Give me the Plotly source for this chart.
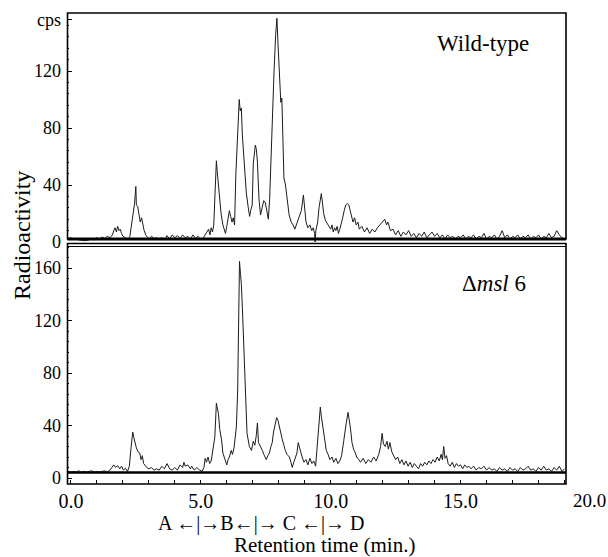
import plotly.graph_objects as go

# ---------------- data ----------------
wt_time = [-0.1, 0.0, 0.1, 0.2, 0.3, 0.4, 0.5, 0.6, 0.7, 0.8, 0.9, 1.0, 1.1, 1.2, 1.3, 1.4, 1.5, 1.6, 1.65, 1.7,
           1.75, 1.8, 1.85, 1.9, 1.95, 2.0, 2.1, 2.2, 2.27, 2.33, 2.4, 2.45, 2.5, 2.52, 2.57, 2.62, 2.67, 2.72, 2.77, 2.82,
           2.88, 2.95, 3.0, 3.1, 3.2, 3.3, 3.4, 3.5, 3.6, 3.7, 3.8, 3.9, 4.0, 4.1, 4.2, 4.3, 4.4, 4.5, 4.6, 4.7,
           4.8, 4.9, 5.0, 5.1, 5.2, 5.3, 5.35, 5.4, 5.45, 5.5, 5.55, 5.6, 5.63, 5.68, 5.72, 5.78, 5.85, 5.9, 5.95, 6.0,
           6.05, 6.1, 6.15, 6.2, 6.25, 6.3, 6.35, 6.42, 6.48, 6.52, 6.56, 6.6, 6.65, 6.7, 6.75, 6.82, 6.88, 6.92, 6.98, 7.02,
           7.07, 7.1, 7.14, 7.18, 7.24, 7.3, 7.36, 7.42, 7.48, 7.55, 7.6, 7.65, 7.7, 7.76, 7.82, 7.88, 7.93, 7.97, 8.02, 8.08,
           8.12, 8.16, 8.2, 8.26, 8.32, 8.4, 8.48, 8.55, 8.62, 8.7, 8.8, 8.87, 8.95, 9.0, 9.05, 9.12, 9.2, 9.27, 9.33, 9.38,
           9.4, 9.43, 9.5, 9.55, 9.6, 9.64, 9.68, 9.73, 9.8, 9.87, 9.94, 10.0, 10.05, 10.1, 10.15, 10.2, 10.25, 10.3, 10.35, 10.4,
           10.45, 10.52, 10.58, 10.64, 10.7, 10.75, 10.8, 10.86, 10.92, 10.98, 11.05, 11.1, 11.2, 11.3, 11.4, 11.5, 11.6, 11.7, 11.8, 11.9,
           12.0, 12.08, 12.15, 12.2, 12.3, 12.4, 12.5, 12.6, 12.7, 12.8, 12.9, 13.0, 13.1, 13.2, 13.3, 13.4, 13.5, 13.6, 13.7, 13.8,
           13.9, 14.0, 14.1, 14.2, 14.3, 14.4, 14.5, 14.6, 14.7, 14.8, 14.9, 15.0, 15.1, 15.2, 15.3, 15.4, 15.5, 15.6, 15.7, 15.8,
           15.9, 16.0, 16.1, 16.2, 16.3, 16.4, 16.5, 16.6, 16.7, 16.8, 16.9, 17.0, 17.1, 17.2, 17.3, 17.4, 17.5, 17.6, 17.7, 17.8,
           17.9, 18.0, 18.1, 18.2, 18.3, 18.4, 18.5, 18.6, 18.7, 18.8, 18.9, 19.0]
wt_cps = [2.5, 3, 2, 2.5, 1.5, 1, 1, 1, 1.5, 2, 1.5, 3, 2, 3.5, 2.5, 4, 3, 5, 8, 10,
          7, 11, 8, 9, 6, 4, 3, 2, 4, 12, 22, 27, 39, 26, 25, 20, 14, 17, 12, 8,
          5, 3, 2, 4, 2.5, 3, 2, 3, 1.5, 4.5, 2, 5, 3, 4.5, 2.5, 5, 3, 4, 2, 5,
          2.5, 4, 1.5, 3, 6, 9, 5, 10, 7, 12, 35, 57, 50, 38, 30, 20, 12, 8, 6, 11,
          16, 22, 18, 14, 17, 12, 48, 82, 100, 92, 94, 75, 60, 46, 35, 25, 18, 22, 26, 55,
          63, 68, 65, 56, 30, 19, 24, 29, 28, 22, 16, 30, 60, 95, 120, 145, 157, 140, 120, 98,
          101, 70, 45, 40, 32, 19, 14, 12, 9, 13, 17, 22, 33, 20, 14, 10, 12, 8, 10, 6,
          0, 8, 14, 24, 31, 34, 28, 20, 15, 13, 11, 9, 12, 7, 10, 8, 11, 6, 9, 12,
          16, 22, 26, 27, 26, 22, 18, 14, 17, 12, 14, 9, 11, 7, 10, 6, 9, 7, 10, 12,
          14, 16, 12, 14, 8, 9, 5, 8, 4, 7, 5, 8, 4, 6, 3, 6, 4, 7, 3, 5,
          7, 4, 6, 3, 5, 2, 5, 3, 4, 2, 4, 3, 5, 2, 4, 3, 5, 2, 4, 3,
          6, 2, 4, 3, 5, 2, 4, 8, 3, 5, 2, 4, 3, 5, 2, 4, 3, 5, 2, 4,
          3, 5, 2, 4, 3, 6, 3, 4, 8, 5, 3, 2]

msl_time = [-0.1, 0.0, 0.1, 0.2, 0.3, 0.4, 0.5, 0.6, 0.7, 0.8, 0.9, 1.0, 1.1, 1.2, 1.3, 1.4, 1.5, 1.58, 1.65, 1.72,
            1.8, 1.88, 1.95, 2.02, 2.1, 2.18, 2.25, 2.3, 2.34, 2.38, 2.42, 2.46, 2.52, 2.58, 2.65, 2.7, 2.75, 2.8, 2.86, 2.92,
            3.0, 3.1, 3.2, 3.3, 3.4, 3.5, 3.6, 3.7, 3.8, 3.9, 4.0, 4.1, 4.2, 4.3, 4.35, 4.4, 4.5, 4.6, 4.65, 4.75,
            4.85, 4.95, 5.05, 5.12, 5.17, 5.22, 5.28, 5.34, 5.4, 5.45, 5.5, 5.54, 5.6, 5.64, 5.68, 5.73, 5.8, 5.85, 5.92, 6.0,
            6.05, 6.1, 6.17, 6.22, 6.28, 6.33, 6.37, 6.42, 6.46, 6.49, 6.53, 6.56, 6.6, 6.64, 6.68, 6.73, 6.78, 6.87, 6.95, 7.02,
            7.08, 7.14, 7.18, 7.22, 7.3, 7.37, 7.45, 7.52, 7.58, 7.64, 7.7, 7.75, 7.8, 7.86, 7.92, 7.97, 8.02, 8.08, 8.14, 8.2,
            8.25, 8.32, 8.41, 8.47, 8.52, 8.58, 8.64, 8.7, 8.75, 8.79, 8.84, 8.9, 8.97, 9.05, 9.12, 9.2, 9.28, 9.35, 9.42, 9.47,
            9.52, 9.57, 9.6, 9.64, 9.68, 9.75, 9.83, 9.9, 9.97, 10.05, 10.12, 10.2, 10.28, 10.35, 10.42, 10.5, 10.55, 10.6, 10.67, 10.72,
            10.76, 10.82, 10.88, 10.95, 11.0, 11.08, 11.15, 11.25, 11.35, 11.45, 11.55, 11.65, 11.75, 11.85, 11.92, 11.98, 12.03, 12.1, 12.17, 12.22,
            12.28, 12.35, 12.42, 12.5, 12.58, 12.66, 12.74, 12.82, 12.9, 12.98, 13.06, 13.14, 13.22, 13.3, 13.38, 13.46, 13.54, 13.62, 13.7, 13.78,
            13.86, 13.94, 14.02, 14.1, 14.18, 14.25, 14.3, 14.35, 14.4, 14.46, 14.52, 14.6, 14.68, 14.76, 14.84, 14.92, 15.0, 15.08, 15.16, 15.24,
            15.32, 15.4, 15.5, 15.6, 15.7, 15.8, 15.9, 16.0, 16.1, 16.2, 16.3, 16.4, 16.5, 16.6, 16.7, 16.8, 16.9, 17.0, 17.1, 17.2,
            17.3, 17.4, 17.5, 17.6, 17.7, 17.8, 17.9, 18.0, 18.1, 18.2, 18.3, 18.4, 18.5, 18.6, 18.7, 18.8, 18.9, 19.0]
msl_cps = [5, 4.5, 5, 4.5, 5.5, 4.5, 5, 4.5, 5, 5.5, 4.5, 5, 4.5, 5, 5.5, 4.5, 6, 8, 10, 8,
           9.5, 7, 9, 6, 7.5, 5, 9, 20, 30, 35, 31, 27, 23, 20, 19, 14, 17, 11, 9, 8,
           7, 8, 6, 7, 6, 9, 7, 11, 7, 6, 8, 6, 10, 8, 12, 9, 10, 7, 9, 6,
           8, 6, 5, 8, 15, 12, 16, 11, 13, 19, 24, 31, 57, 52, 49, 37, 29, 19, 14, 10,
           14, 16, 21, 18, 23, 30, 39, 67, 118, 165, 155, 148, 130, 105, 80, 57, 34, 24, 21, 28,
           25, 33, 42, 27, 24, 21, 17, 14, 17, 19, 24, 27, 35, 42, 46, 44, 39, 33, 29, 25,
           21, 18, 16, 12, 8, 12, 16, 19, 27, 24, 19, 16, 12, 14, 10, 15, 11, 13, 9, 20,
           33, 48, 54, 47, 42, 30, 21, 18, 14, 16, 12, 15, 11, 13, 17, 28, 36, 42, 50, 44,
           38, 27, 22, 19, 16, 14, 12, 15, 11, 14, 12, 16, 13, 18, 24, 34, 26, 24, 28, 22,
           27, 20, 17, 14, 16, 11, 14, 10, 13, 9, 12, 8, 11, 9, 7, 11, 9, 12, 10, 13,
           11, 14, 12, 16, 13, 18, 14, 24, 15, 17, 11, 9, 12, 8, 11, 9, 10, 7, 10, 8,
           9, 7, 9, 6, 8, 7, 9, 6, 8, 6, 7, 5, 8, 6, 7, 5, 8, 6, 7, 5,
           8, 6, 7, 9, 6, 7, 5, 8, 6, 9, 6, 7, 5, 8, 6, 9, 5, 7]

y_ticks = [0, 40, 80, 120]
x_ticks = [0, 5, 10, 15]

# ---------------- layout helpers (pixel geometry in window coords) ----------------
W, H = 608, 557
ML, MR = 67, 17
PW = W - ML - MR


def px(xp):
    return (xp - ML) / PW


def py(yp):
    return 1 - yp / H


FONT = "Liberation Serif"
LINE = "#1c1c1c"

fig = go.Figure()
fig.add_trace(go.Scatter(x=wt_time, y=wt_cps, mode="lines", xaxis="x", yaxis="y",
                         line=dict(color=LINE, width=1), showlegend=False, hoverinfo="skip"))
fig.add_trace(go.Scatter(x=msl_time, y=msl_cps, mode="lines", xaxis="x2", yaxis="y2",
                         line=dict(color=LINE, width=1), showlegend=False, hoverinfo="skip"))

xr = [-0.15, 20.02]
top_range = [0, (242 - 13) / 1.425]
bot_range = [(478 - 484) / 1.3125, (478 - 245) / 1.3125]

ytick_common = dict(ticks="inside", ticklen=5, tickcolor="black", tickwidth=1,
                    showgrid=False, zeroline=False, showline=False,
                    tickfont=dict(family=FONT, size=18, color="black"),
                    ticklabelstandoff=5,
                    minor=dict(ticks="inside", ticklen=2, dtick=8, tickcolor="black"))

fig.update_layout(
    width=W, height=H, template="none",
    paper_bgcolor="white", plot_bgcolor="white",
    margin=dict(l=ML, r=MR, t=0, b=0),
    xaxis=dict(domain=[0, 1], range=xr, anchor="y", showticklabels=False, ticks="",
               showgrid=False, zeroline=False, showline=False),
    xaxis2=dict(domain=[0, 1], range=xr, anchor="y2", matches="x",
                tickvals=list(range(0, 20)),
                ticktext=[("%.1f" % v) if v in x_ticks else "" for v in range(0, 20)],
                ticks="inside", ticklen=4, tickcolor="black",
                tickfont=dict(family=FONT, size=20, color="black"),
                ticklabelstandoff=3,
                showgrid=False, zeroline=False, showline=False),
    yaxis=dict(domain=[py(242), py(13)], range=top_range, anchor="x",
               tickvals=y_ticks + [156], ticktext=[str(v) for v in y_ticks] + ["cps"],
               **ytick_common),
    yaxis2=dict(domain=[py(484), py(245)], range=bot_range, anchor="x2",
                tickvals=y_ticks + [160], ticktext=[str(v) for v in y_ticks + [160]],
                **ytick_common),
)

shapes = [
    # top panel frame
    dict(type="rect", xref="paper", yref="paper", x0=px(67.5), x1=px(566), y0=py(239), y1=py(13),
         line=dict(color="black", width=1.6)),
    dict(type="line", xref="paper", yref="paper", x0=px(67.5), x1=px(566), y0=py(239), y1=py(239),
         line=dict(color="black", width=3)),
    # bottom panel frame
    dict(type="rect", xref="paper", yref="paper", x0=px(67.5), x1=px(566), y0=py(484), y1=py(243.5),
         line=dict(color="black", width=1.6)),
    dict(type="line", xref="paper", yref="paper", x0=px(67.5), x1=px(566), y0=py(246.5), y1=py(246.5),
         line=dict(color="black", width=1)),
    dict(type="line", xref="paper", yref="paper", x0=px(67.5), x1=px(566), y0=py(472.5), y1=py(472.5),
         line=dict(color="black", width=2.5)),
]
fig.update_layout(shapes=shapes)

ann = [
    dict(text="Wild-type", x=px(483), y=py(43), size=23),
    dict(text="Δ<i>msl</i> 6", x=px(494), y=py(283), size=23),
    dict(text="A ←|→B←|→ C ←|→ D", x=px(261), y=py(523), size=20),
    dict(text="Retention time (min.)", x=px(324), y=py(545), size=21),
]
annotations = [dict(text=a["text"], xref="paper", yref="paper", x=a["x"], y=a["y"],
                    xanchor="center", yanchor="middle", showarrow=False,
                    font=dict(family=FONT, size=a["size"], color="black")) for a in ann]
annotations.append(dict(text="Radioactivity", xref="paper", yref="paper", x=px(22), y=py(236),
                        xanchor="center", yanchor="middle", showarrow=False, textangle=-90,
                        font=dict(family=FONT, size=24, color="black")))
annotations.append(dict(text="20.0", xref="paper", yref="paper", x=px(589), y=py(500),
                        xanchor="center", yanchor="middle", showarrow=False,
                        font=dict(family=FONT, size=19, color="black")))
fig.update_layout(annotations=annotations)

fig.write_html("out.html", config={"displayModeBar": False},
               post_script="document.body.style.margin='0';document.body.style.overflow='hidden';")
